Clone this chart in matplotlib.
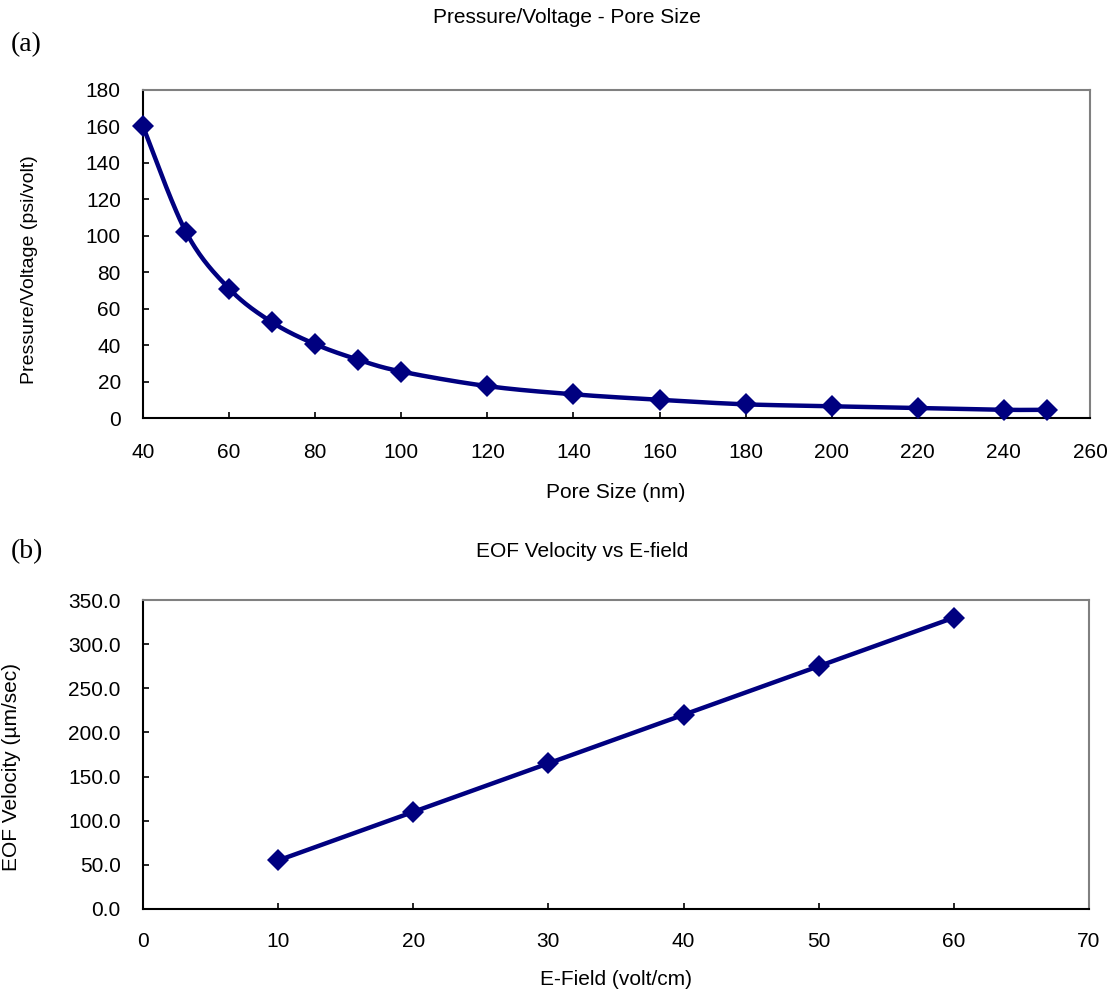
import numpy as np
import matplotlib
matplotlib.use("Agg")
import matplotlib.pyplot as plt
from matplotlib.ticker import FormatStrFormatter

# Data
pore_size = [40, 50, 60, 70, 80, 90, 100, 120, 140, 160, 180, 200, 220, 240, 250]
pressure_per_volt = [160, 102, 71, 52.5, 40.5, 32, 25.5, 17.5, 13, 10, 7.5, 6.5, 5.5, 4.5, 4.5]

e_field = [10, 20, 30, 40, 50, 60]
eof_velocity = [55, 110, 165, 220, 275, 330]

pore_ticks = list(range(40, 261, 20))
pressure_ticks = list(range(0, 181, 20))
field_ticks = list(range(0, 71, 10))
velocity_ticks = list(range(0, 351, 50))

NAVY = "#000080"
W, H = 1114, 993
plt.rcParams["font.family"] = ["Liberation Sans", "DejaVu Sans"]


def smooth_curve(ax, xs, ys, n=30):
    """Catmull-Rom curve through the points, computed in screen proportions."""
    x0, x1 = ax.get_xlim()
    y0, y1 = ax.get_ylim()
    bbox = ax.get_window_extent()
    sx = bbox.width / (x1 - x0)
    sy = bbox.height / (y1 - y0)
    P = np.column_stack([(np.asarray(xs, float) - x0) * sx,
                         (np.asarray(ys, float) - y0) * sy])
    P = np.vstack([P[0], P, P[-1]])
    out = []
    for i in range(1, len(P) - 2):
        p0, p1, p2, p3 = P[i - 1], P[i], P[i + 1], P[i + 2]
        c1 = p1 + (p2 - p0) / 6.0
        c2 = p2 - (p3 - p1) / 6.0
        t = np.linspace(0, 1, n)[:, None]
        seg = ((1 - t) ** 3) * p1 + 3 * ((1 - t) ** 2) * t * c1 + 3 * (1 - t) * t ** 2 * c2 + t ** 3 * p2
        out.append(seg if i == 1 else seg[1:])
    C = np.vstack(out)
    return C[:, 0] / sx + x0, C[:, 1] / sy + y0


def style_axes(ax, pad_x, pad_y):
    for side in ("left", "bottom"):
        ax.spines[side].set_color("black")
        ax.spines[side].set_linewidth(1.5)
    for side in ("top", "right"):
        ax.spines[side].set_color("#808080")
        ax.spines[side].set_linewidth(1.5)
    ax.tick_params(direction="in", length=4.5, width=1.2, labelsize=15)
    ax.tick_params(axis="x", pad=pad_x)
    ax.tick_params(axis="y", pad=pad_y)


fig = plt.figure(figsize=(W / 100, H / 100), dpi=100)


def axes_px(left, top, right, bottom):
    return fig.add_axes([left / W, 1 - bottom / H, (right - left) / W, (bottom - top) / H])


# (a) Pressure/Voltage vs pore size
ax1 = axes_px(143, 90, 1090, 418)
ax1.set_xlim(40, 260)
ax1.set_ylim(0, 180)
ax1.set_xticks(pore_ticks)
ax1.set_yticks(pressure_ticks)
style_axes(ax1, 18, 16)
cx, cy = smooth_curve(ax1, pore_size, pressure_per_volt)
ax1.plot(cx, cy, color=NAVY, lw=3.2, solid_capstyle="round", zorder=3)
ax1.plot(pore_size, pressure_per_volt, ls="none", marker="D", ms=11.5,
         color=NAVY, mew=0, clip_on=False, zorder=4)

# (b) EOF velocity vs E-field
ax2 = axes_px(143, 600, 1089, 909)
ax2.set_xlim(0, 70)
ax2.set_ylim(0, 350)
ax2.set_xticks(field_ticks)
ax2.set_yticks(velocity_ticks)
ax2.yaxis.set_major_formatter(FormatStrFormatter("%.1f"))
style_axes(ax2, 16.5, 16)
cx, cy = smooth_curve(ax2, e_field, eof_velocity)
ax2.plot(cx, cy, color=NAVY, lw=3.2, solid_capstyle="round", zorder=3)
ax2.plot(e_field, eof_velocity, ls="none", marker="D", ms=11.5,
         color=NAVY, mew=0, clip_on=False, zorder=4)


def ftext(x, y, s, **kw):
    fig.text(x / W, 1 - y / H, s, **kw)


ftext(567, 23, "Pressure/Voltage - Pore Size", ha="center", va="baseline", fontsize=15)
ftext(582, 557, "EOF Velocity vs E-field", ha="center", va="baseline", fontsize=15)
ftext(616, 498, "Pore Size (nm)", ha="center", va="baseline", fontsize=15)
ftext(616, 985, "E-Field (volt/cm)", ha="center", va="baseline", fontsize=15)
ftext(30, 270, "Pressure/Voltage (psi/volt)", ha="center", va="center",
      rotation=90, fontsize=14)
ftext(12, 767, "EOF Velocity (\u00b5m/sec)", ha="center", va="center",
      rotation=90, fontsize=15)
ftext(11, 45, "(a)", ha="left", va="center", fontsize=20, family="Liberation Serif")
ftext(11, 552, "(b)", ha="left", va="center", fontsize=20, family="Liberation Serif")

fig.savefig("out.png", dpi=100)
